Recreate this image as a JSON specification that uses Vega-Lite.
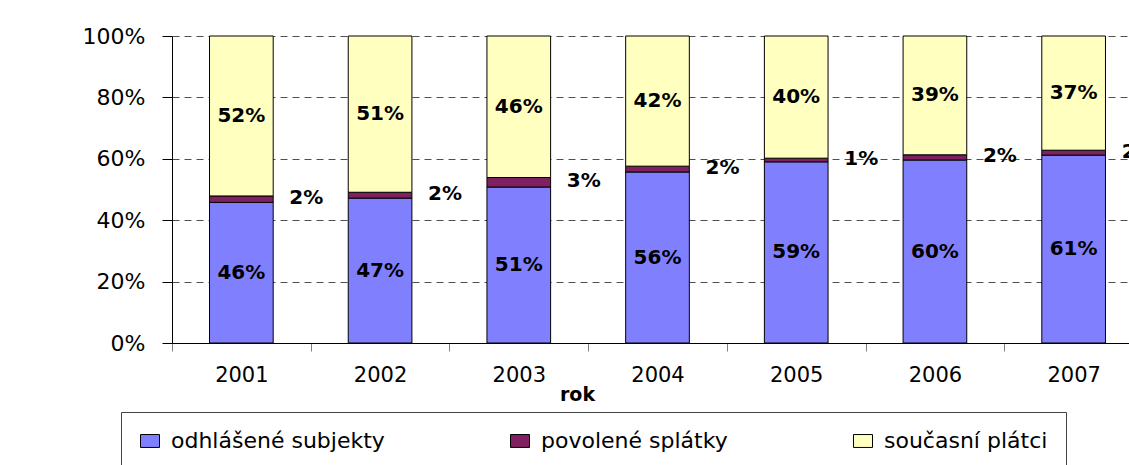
{
  "$schema": "https://vega.github.io/schema/vega-lite/v6.json",
  "width": 957,
  "height": 307,
  "autosize": {"type": "none"},
  "padding": {"left": 172, "top": 36, "right": 0, "bottom": 122},
  "background": "white",
  "config": {"view": {"stroke": null}, "font": "DejaVu Sans"},
  "data": {
    "values": [
      {"rok": "2001", "kategorie": "odhlášené subjekty", "podil": 0.458},
      {"rok": "2001", "kategorie": "povolené splátky", "podil": 0.021},
      {"rok": "2001", "kategorie": "současní plátci", "podil": 0.521},
      {"rok": "2002", "kategorie": "odhlášené subjekty", "podil": 0.472},
      {"rok": "2002", "kategorie": "povolené splátky", "podil": 0.019},
      {"rok": "2002", "kategorie": "současní plátci", "podil": 0.509},
      {"rok": "2003", "kategorie": "odhlášené subjekty", "podil": 0.508},
      {"rok": "2003", "kategorie": "povolené splátky", "podil": 0.031},
      {"rok": "2003", "kategorie": "současní plátci", "podil": 0.461},
      {"rok": "2004", "kategorie": "odhlášené subjekty", "podil": 0.557},
      {"rok": "2004", "kategorie": "povolené splátky", "podil": 0.019},
      {"rok": "2004", "kategorie": "současní plátci", "podil": 0.424},
      {"rok": "2005", "kategorie": "odhlášené subjekty", "podil": 0.590},
      {"rok": "2005", "kategorie": "povolené splátky", "podil": 0.012},
      {"rok": "2005", "kategorie": "současní plátci", "podil": 0.398},
      {"rok": "2006", "kategorie": "odhlášené subjekty", "podil": 0.596},
      {"rok": "2006", "kategorie": "povolené splátky", "podil": 0.017},
      {"rok": "2006", "kategorie": "současní plátci", "podil": 0.387},
      {"rok": "2007", "kategorie": "odhlášené subjekty", "podil": 0.612},
      {"rok": "2007", "kategorie": "povolené splátky", "podil": 0.016},
      {"rok": "2007", "kategorie": "současní plátci", "podil": 0.372}
    ]
  },
  "layer": [
    {
      "mark": {"type": "bar", "stroke": "black", "strokeWidth": 1},
      "encoding": {
        "x": {
          "field": "rok", "type": "ordinal",
          "scale": {"range": [0, 971], "paddingInner": 0.541, "paddingOuter": 0.2705},
          "axis": {
            "title": "rok", "labelAngle": 0, "tickOffset": -69.36, "labelOffset": 69.36, "tickSize": 8, "tickColor": "#808080",
            "domainColor": "black", "labelFont": "DejaVu Sans", "labelFontSize": 21, "labelColor": "black",
            "labelPadding": 13, "grid": false,
            "titleFont": "DejaVu Sans", "titleFontSize": 19, "titleFontWeight": "bold", "titleColor": "black",
            "titleX": 405, "titleY": 57, "titleBaseline": "alphabetic", "titleAlign": "center"
          }
        },
        "y": {
          "field": "podil", "type": "quantitative", "stack": "normalize",
          "scale": {"domain": [0, 1], "nice": false},
          "axis": {
            "title": null, "values": [0, 0.1, 0.2, 0.3, 0.4, 0.5, 0.6, 0.7, 0.8, 0.9, 1],
            "format": ".0%", "labelFont": "DejaVu Sans", "labelFontSize": 22, "labelColor": "black",
            "labelOverlap": false, "labelPadding": 17, "tickSize": 10, "tickColor": "black", "domainColor": "black",
            "grid": true, "gridDash": [7, 5], "gridColor": "#505050", "gridWidth": 1
          }
        },
        "order": {"field": "kategorie", "sort": "ascending"},
        "color": {
          "field": "kategorie", "type": "nominal",
          "scale": {
            "domain": ["odhlášené subjekty", "povolené splátky", "současní plátci"],
            "range": ["#8080FF", "#802060", "#FFFFC0"]
          },
          "legend": {
            "orient": "none", "legendX": -51, "legendY": 376, "direction": "horizontal", "columns": 3,
            "title": null, "labelFont": "DejaVu Sans", "labelFontSize": 22, "labelColor": "black",
            "labelLimit": 400, "labelOffset": 10, "columnPadding": 123,
            "symbolType": "M-1,-0.68H1V0.68H-1Z", "symbolSize": 361,
            "symbolStrokeColor": "black", "symbolStrokeWidth": 1, "symbolOpacity": 1,
            "strokeColor": "#444444", "padding": 18
          }
        }
      }
    },
    {
      "transform": [
        {"stack": "podil", "groupby": ["rok"], "sort": [{"field": "kategorie", "order": "ascending"}], "offset": "normalize", "as": ["v0", "v1"]},
        {"calculate": "(datum.v0 + datum.v1) / 2", "as": "mid"},
        {"filter": "datum.kategorie != 'povolené splátky'"}
      ],
      "mark": {"type": "text", "font": "DejaVu Sans", "fontWeight": "bold", "fontSize": 20, "color": "black"},
      "encoding": {
        "x": {"field": "rok", "type": "ordinal", "title": "rok"},
        "y": {"field": "mid", "type": "quantitative", "title": null},
        "text": {"field": "podil", "type": "quantitative", "format": ".0%"}
      }
    },
    {
      "transform": [
        {"stack": "podil", "groupby": ["rok"], "sort": [{"field": "kategorie", "order": "ascending"}], "offset": "normalize", "as": ["v0", "v1"]},
        {"calculate": "(datum.v0 + datum.v1) / 2", "as": "mid"},
        {"filter": "datum.kategorie == 'povolené splátky'"}
      ],
      "mark": {"type": "text", "font": "DejaVu Sans", "fontWeight": "bold", "fontSize": 20, "color": "black", "dx": 65, "dy": -1},
      "encoding": {
        "x": {"field": "rok", "type": "ordinal", "title": "rok"},
        "y": {"field": "mid", "type": "quantitative", "title": null},
        "text": {"field": "podil", "type": "quantitative", "format": ".0%"}
      }
    }
  ]
}
